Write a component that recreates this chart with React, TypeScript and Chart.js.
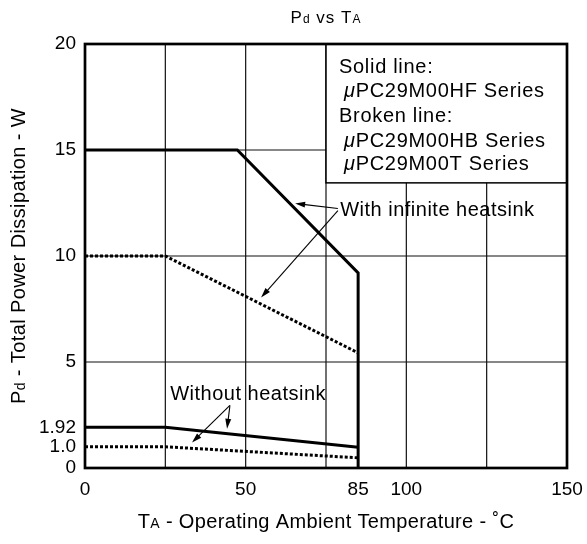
import React, { useEffect, useRef } from "react";
import { Chart, registerables } from "chart.js";

Chart.register(...registerables);

// ---- data ----
const solidInfX = [0, 47.4, 85, 85];
const solidInfY = [15, 15, 9.2, 0];
const brokenInfX = [0, 25, 85];
const brokenInfY = [10, 10, 5.43];
const solidNoX = [0, 25, 85];
const solidNoY = [1.92, 1.92, 0.98];
const brokenNoX = [0, 25, 85];
const brokenNoY = [1.0, 1.0, 0.48];

const xTickValues = [0, 50, 85, 100, 150];
const xTickLabels = ["0", "50", "85", "100", "150"];
const yTickValues = [0, 1.0, 1.92, 5, 10, 15, 20];
const yTickLabels = ["0", "1.0", "1.92", "5", "10", "15", "20"];
const xGridValues = [25, 50, 75, 100, 125];
const yGridValues = [5, 10, 15];

const legendLines = [
  "Solid line:",
  "μPC29M00HF Series",
  "Broken line:",
  "μPC29M00HB Series",
  "μPC29M00T Series",
];
const legendBoxX = [75, 150];
const legendBoxY = [13.45, 20];

// annotation labels and arrows in data coordinates
const infLabel = { text: "With infinite heatsink", x: 79.4, y: 12.24 };
const noLabel = { text: "Without heatsink", x: 26.5, y: 3.56 };
const arrowFromX = [78.7, 78.7, 45.1, 45.1];
const arrowFromY = [12.24, 12.14, 2.95, 2.95];
const arrowToX = [65.4, 54.8, 44.2, 33.3];
const arrowToY = [12.48, 8.04, 1.85, 1.2];

const FONT = "'Liberation Sans', Arial, Helvetica, sans-serif";

const pts = (xs: number[], ys: number[]) => xs.map((x, i) => ({ x, y: ys[i] }));

type Seg = { t: string; size: number; italic?: boolean };

function setFont(ctx: any, s: Seg, sp: number) {
  ctx.font = `${s.italic ? "italic " : ""}${s.size}px ${FONT}`;
  ctx.letterSpacing = `${sp}px`;
}

function segWidth(ctx: CanvasRenderingContext2D, segs: Seg[], sp: number) {
  let w = 0;
  segs.forEach((s) => {
    setFont(ctx, s, sp);
    w += ctx.measureText(s.t).width;
  });
  return w;
}

function drawSegs(ctx: CanvasRenderingContext2D, segs: Seg[], x: number, y: number, sp: number) {
  let cx = x;
  ctx.textAlign = "left";
  ctx.textBaseline = "alphabetic";
  segs.forEach((s) => {
    setFont(ctx, s, sp);
    ctx.fillText(s.t, cx, y);
    cx += ctx.measureText(s.t).width;
  });
  (ctx as any).letterSpacing = "0px";
}

function arrow(ctx: CanvasRenderingContext2D, x1: number, y1: number, x2: number, y2: number) {
  const ang = Math.atan2(y2 - y1, x2 - x1);
  const L = 10;
  const W = 3;
  ctx.beginPath();
  ctx.moveTo(x1, y1);
  ctx.lineTo(x2 - Math.cos(ang) * L * 0.8, y2 - Math.sin(ang) * L * 0.8);
  ctx.stroke();
  ctx.beginPath();
  ctx.moveTo(x2, y2);
  ctx.lineTo(x2 - Math.cos(ang) * L - Math.sin(ang) * W, y2 - Math.sin(ang) * L + Math.cos(ang) * W);
  ctx.lineTo(x2 - Math.cos(ang) * L + Math.sin(ang) * W, y2 - Math.sin(ang) * L - Math.cos(ang) * W);
  ctx.closePath();
  ctx.fill();
}

const customPlugin = {
  id: "customDraw",
  beforeDatasetsDraw(chart: any) {
    const { ctx, chartArea, scales } = chart;
    const xs = scales.x;
    const ys = scales.y;
    ctx.save();
    ctx.strokeStyle = "#111";
    ctx.lineWidth = 1.2;
    xGridValues.forEach((v) => {
      const px = xs.getPixelForValue(v);
      ctx.beginPath();
      ctx.moveTo(px, chartArea.top);
      ctx.lineTo(px, chartArea.bottom);
      ctx.stroke();
    });
    yGridValues.forEach((v) => {
      const py = ys.getPixelForValue(v);
      ctx.beginPath();
      ctx.moveTo(chartArea.left, py);
      ctx.lineTo(chartArea.right, py);
      ctx.stroke();
    });
    ctx.restore();
  },
  afterDatasetsDraw(chart: any) {
    const { ctx, chartArea, scales } = chart;
    const xs = scales.x;
    const ys = scales.y;
    ctx.save();
    ctx.fillStyle = "#000";
    ctx.strokeStyle = "#000";

    // legend box
    const bx0 = xs.getPixelForValue(legendBoxX[0]);
    const bx1 = xs.getPixelForValue(legendBoxX[1]);
    const by0 = ys.getPixelForValue(legendBoxY[1]);
    const by1 = ys.getPixelForValue(legendBoxY[0]);
    ctx.fillStyle = "#fff";
    ctx.fillRect(bx0, by0, bx1 - bx0, by1 - by0);
    ctx.lineWidth = 1.5;
    ctx.strokeRect(bx0, by0, bx1 - bx0, by1 - by0);
    ctx.fillStyle = "#000";
    const lineOffsets = [29, 53, 78, 103, 126];
    legendLines.forEach((ln, i) => {
      const indent = ln.startsWith("μ");
      const segs: Seg[] = indent
        ? [
            { t: "μ", size: 20, italic: true },
            { t: ln.slice(1), size: 20 },
          ]
        : [{ t: ln, size: 20 }];
      drawSegs(ctx, segs, bx0 + (indent ? 18 : 13), by0 + lineOffsets[i], 0.7);
    });

    // arrows
    ctx.lineWidth = 1.1;
    arrowFromX.forEach((fx, i) => {
      arrow(
        ctx,
        xs.getPixelForValue(fx),
        ys.getPixelForValue(arrowFromY[i]),
        xs.getPixelForValue(arrowToX[i]),
        ys.getPixelForValue(arrowToY[i])
      );
    });
    // annotation labels
    drawSegs(ctx, [{ t: infLabel.text, size: 20 }], xs.getPixelForValue(infLabel.x), ys.getPixelForValue(infLabel.y) + 7, 0.5);
    drawSegs(ctx, [{ t: noLabel.text, size: 20 }], xs.getPixelForValue(noLabel.x), ys.getPixelForValue(noLabel.y) + 7, 0.5);

    // plot border
    ctx.lineWidth = 2.7;
    ctx.strokeRect(chartArea.left, chartArea.top, chartArea.right - chartArea.left, chartArea.bottom - chartArea.top);

    // title
    const cx = (chartArea.left + chartArea.right) / 2;
    const tSegs: Seg[] = [
      { t: "P", size: 17 },
      { t: "d", size: 12 },
      { t: " vs T", size: 17 },
      { t: "A", size: 12 },
    ];
    drawSegs(ctx, tSegs, cx - segWidth(ctx, tSegs, 1) / 2, 23, 1);

    // x axis title
    const xSegs: Seg[] = [
      { t: "T", size: 20 },
      { t: "A", size: 14 },
      { t: " - Operating Ambient Temperature - ˚C", size: 20 },
    ];
    drawSegs(ctx, xSegs, cx - segWidth(ctx, xSegs, 0.35) / 2, 528, 0.35);

    // y axis title
    const cy = (chartArea.top + chartArea.bottom) / 2;
    const ySegs: Seg[] = [
      { t: "P", size: 20 },
      { t: "d", size: 14 },
      { t: " - Total Power Dissipation - W", size: 20 },
    ];
    ctx.translate(25, cy);
    ctx.rotate(-Math.PI / 2);
    drawSegs(ctx, ySegs, -segWidth(ctx, ySegs, 0.4) / 2, 0, 0.4);
    ctx.restore();
  },
};

export default function App() {
  const ref = useRef<HTMLCanvasElement | null>(null);
  useEffect(() => {
    if (!ref.current) return;
    const lineStyle = {
      showLine: true,
      pointRadius: 0,
      borderColor: "#000",
      backgroundColor: "#000",
      borderWidth: 3,
      tension: 0,
      fill: false,
    };
    const chart = new Chart(ref.current, {
      type: "scatter",
      data: {
        datasets: [
          { label: "Solid, infinite heatsink", data: pts(solidInfX, solidInfY), ...lineStyle },
          { label: "Broken, infinite heatsink", data: pts(brokenInfX, brokenInfY), ...lineStyle, borderDash: [3, 2] },
          { label: "Solid, without heatsink", data: pts(solidNoX, solidNoY), ...lineStyle },
          { label: "Broken, without heatsink", data: pts(brokenNoX, brokenNoY), ...lineStyle, borderDash: [3, 2] },
        ] as any,
      },
      options: {
        animation: false,
        responsive: false,
        devicePixelRatio: 1,
        layout: { padding: { left: 0, right: 20, top: 44, bottom: 0 } },
        plugins: { legend: { display: false }, tooltip: { enabled: false }, title: { display: false } },
        scales: {
          x: {
            type: "linear",
            min: 0,
            max: 150,
            grid: { display: false, drawTicks: false },
            border: { display: false },
            afterBuildTicks: (s: any) => {
              s.ticks = xTickValues.map((v) => ({ value: v }));
            },
            afterFit: (s: any) => {
              s.height = 76;
              s.paddingLeft = 0;
              s.paddingRight = 0;
            },
            ticks: {
              autoSkip: false,
              maxRotation: 0,
              padding: 10,
              color: "#000",
              font: { family: FONT, size: 19 },
              callback: (v: any) => {
                const i = xTickValues.indexOf(Number(v));
                return i >= 0 ? xTickLabels[i] : "";
              },
            },
          },
          y: {
            type: "linear",
            min: 0,
            max: 20,
            grid: { display: false, drawTicks: false },
            border: { display: false },
            afterBuildTicks: (s: any) => {
              s.ticks = yTickValues.map((v) => ({ value: v }));
            },
            afterFit: (s: any) => {
              s.width = 85;
              s.paddingTop = 0;
              s.paddingBottom = 0;
            },
            ticks: {
              autoSkip: false,
              padding: 9,
              color: "#000",
              font: { family: FONT, size: 19 },
              callback: (v: any) => {
                const i = yTickValues.indexOf(Number(v));
                return i >= 0 ? yTickLabels[i] : "";
              },
            },
          },
        },
      } as any,
      plugins: [customPlugin],
    });
    return () => chart.destroy();
  }, []);
  return (
    <div style={{ position: "fixed", left: 0, top: 0, width: 587, height: 544, background: "#fff" }}>
      <canvas ref={ref} width={587} height={544} style={{ width: 587, height: 544 }} />
    </div>
  );
}
